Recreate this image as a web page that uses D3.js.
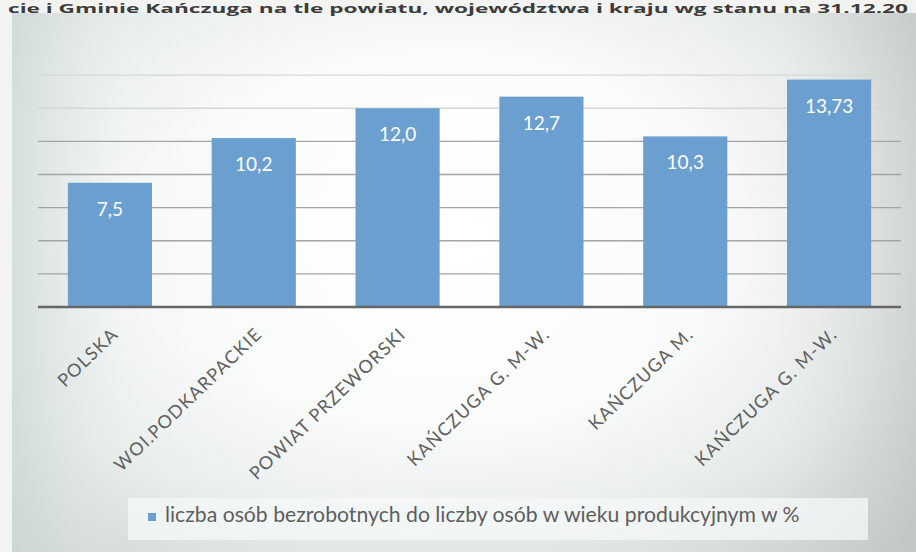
<!DOCTYPE html>
<html><head><meta charset="utf-8">
<script src="https://cdn.jsdelivr.net/npm/d3@7"></script>
<style>html,body{margin:0;padding:0;background:#f3f4f2;}svg{display:block;}</style>
</head><body>
<script>
const titleText = "cie i Gminie Kańczuga na tle powiatu, województwa i kraju wg stanu na 31.12.20";
const categories = ["POLSKA", "WOI.PODKARPACKIE", "POWIAT PRZEWORSKI", "KAŃCZUGA G. M-W.", "KAŃCZUGA M.", "KAŃCZUGA G. M-W."];
const values = [7.5, 10.2, 12.0, 12.7, 10.3, 13.73];
const valueLabels = ["7,5", "10,2", "12,0", "12,7", "10,3", "13,73"];
const seriesName = "liczba osób bezrobotnych do liczby osób w wieku produkcyjnym w %";
const gridTicks = [2, 4, 6, 8, 10, 12, 14];

const W = 916, H = 552;
const svg = d3.select("body").append("svg").attr("width", W).attr("height", H);
const defs = svg.append("defs");
const rg = defs.append("radialGradient").attr("id", "bg").attr("cx", "48%").attr("cy", "42%").attr("r", "75%");
[[0, "#ffffff"], [0.45, "#fbfcfc"], [0.72, "#e8edec"], [1, "#c5cbca"]].forEach(([o, c]) => rg.append("stop").attr("offset", o).attr("stop-color", c));
const lg = defs.append("linearGradient").attr("id", "side").attr("x1", 0).attr("x2", 1);
[[0, "#cfdad8", 0.8], [0.12, "#e8eeed", 0.3], [0.5, "#ffffff", 0], [0.85, "#d9dddc", 0.2], [1, "#bfc4c3", 0.6]].forEach(([o, c, a]) => lg.append("stop").attr("offset", o).attr("stop-color", c).attr("stop-opacity", a));

// chart area background
svg.append("rect").attr("x", 12).attr("y", 13).attr("width", W - 12).attr("height", H - 13).attr("fill", "url(#bg)");
svg.append("rect").attr("x", 12).attr("y", 13).attr("width", W - 12).attr("height", H - 13).attr("fill", "url(#side)");

// title (partly visible strip at the top)
svg.append("text").attr("x", 8).attr("y", 13).attr("textLength", 900).attr("lengthAdjust", "spacingAndGlyphs")
  .attr("font-family", "Open Sans, sans-serif").attr("font-weight", 700).attr("font-size", 12.5).attr("fill", "#3c3c3c").text(titleText);

const x = d3.scaleBand().domain(d3.range(categories.length)).range([38, 901]).paddingInner(0.415).paddingOuter(0.2075);
const y = d3.scaleLinear().domain([0, 16]).range([307, 42]);

// gridlines
svg.append("g").selectAll("line").data(gridTicks).join("line")
  .attr("x1", 38).attr("x2", 901).attr("y1", d => y(d)).attr("y2", d => y(d))
  .attr("stroke", d => d >= 12 ? "#d4d8d8" : "#a2a5a5").attr("stroke-width", 1.3);

// bars
svg.append("g").selectAll("rect").data(values).join("rect")
  .attr("x", (d, i) => x(i)).attr("width", x.bandwidth())
  .attr("y", d => y(d)).attr("height", d => y(0) - y(d))
  .attr("fill", "#6b9fd0");

// value labels
svg.append("g").selectAll("text").data(values).join("text")
  .attr("x", (d, i) => x(i) + x.bandwidth() / 2).attr("y", d => y(d) + 33)
  .attr("text-anchor", "middle").attr("font-family", "Lato, sans-serif").attr("font-size", 19)
  .attr("fill", "#ffffff").text((d, i) => valueLabels[i]);

// x axis
const xAxis = d3.axisBottom(x).tickSize(0).tickFormat(i => categories[i]);
const gx = svg.append("g").attr("transform", `translate(0,${y(0)})`).call(xAxis);
gx.select(".domain").attr("stroke", "#656767").attr("stroke-width", 2.5).attr("d", "M38,0H901");
gx.selectAll(".tick text")
  .attr("font-family", "Lato, sans-serif").attr("font-size", 18).attr("letter-spacing", 1.2)
  .attr("fill", "#606060").attr("text-anchor", "end")
  .attr("x", 0).attr("y", 0).attr("dy", "0.35em")
  .attr("transform", "translate(5,24) rotate(-44)");

// legend
svg.append("rect").attr("x", 128).attr("y", 498).attr("width", 740).attr("height", 42).attr("fill", "#f6f8f8").attr("opacity", 0.75);
svg.append("rect").attr("x", 148).attr("y", 513).attr("width", 8).attr("height", 8).attr("fill", "#6b9fd0");
const lt = svg.append("text").attr("x", 165).attr("y", 522).attr("font-family", "Lato, sans-serif")
  .attr("font-size", 18).attr("fill", "#5e5e5e").text(seriesName);
const len = lt.node().getComputedTextLength();
lt.attr("font-size", 18 * 635 / len);
</script>
</body></html>
